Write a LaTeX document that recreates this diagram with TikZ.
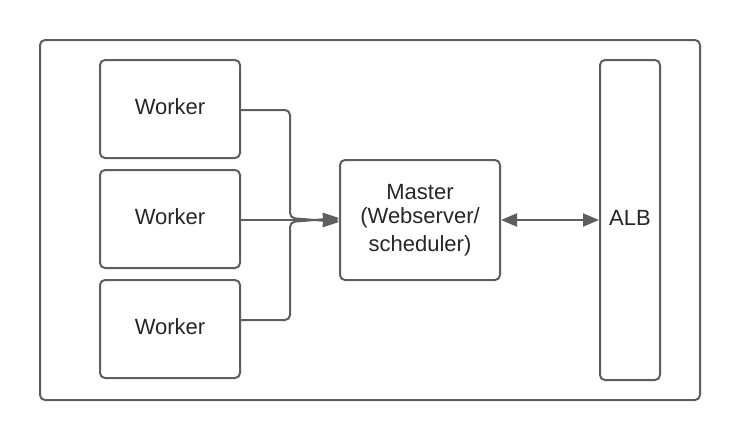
\documentclass[tikz,border=0pt]{standalone}
\usepackage{fontspec}
\setmainfont{Liberation Sans}
\usetikzlibrary{arrows.meta}
\definecolor{ln}{HTML}{5E5E5E}
\begin{document}
\begin{tikzpicture}[x=1pt,y=-1pt,
  box/.style={draw=ln,line width=2pt,rounded corners=5pt,fill=white,inner sep=0pt,
    font=\fontsize{22}{25}\selectfont,align=center,text=black!85},
  conn/.style={draw=ln,line width=2pt,rounded corners=5pt},
  tip/.style={-{Triangle[length=16pt,width=13pt]}}]
\useasboundingbox (0,0) rectangle (740,440);
\node[box,minimum width=660pt,minimum height=360pt] (outer) at (370,220) {};
\node[box,minimum width=140pt,minimum height=98pt] (w1) at (170,109) {\raisebox{4pt}{Worker}};
\node[box,minimum width=140pt,minimum height=98pt] (w2) at (170,219) {\raisebox{4pt}{Worker}};
\node[box,minimum width=140pt,minimum height=98pt] (w3) at (170,329) {\raisebox{4pt}{Worker}};
\node[box,minimum width=160pt,minimum height=120pt] (m) at (420,220) {\raisebox{3pt}{\shortstack{Master\\[4.5pt](Webserver/\\[4.5pt]scheduler)}}};
\node[box,minimum width=60pt,minimum height=320pt] (alb) at (630,220) {\raisebox{4pt}{ALB}};
\coordinate (m1) at ([yshift=-2pt]m.west);
\coordinate (m3) at ([yshift=2pt]m.west);
\draw[conn,tip] (w1.east |- 0,110) -- (290,110) -- (290,218) -- (m1);
\draw[conn,tip] (w2.east |- 0,220) -- (m.west);
\draw[conn,tip] (w3.east |- 0,320) -- (290,320) -- (290,222) -- (m3);
\draw[conn,{Triangle[length=16pt,width=13pt]}-{Triangle[length=16pt,width=13pt]}] (m.east) -- (alb.west);
\end{tikzpicture}
\end{document}
